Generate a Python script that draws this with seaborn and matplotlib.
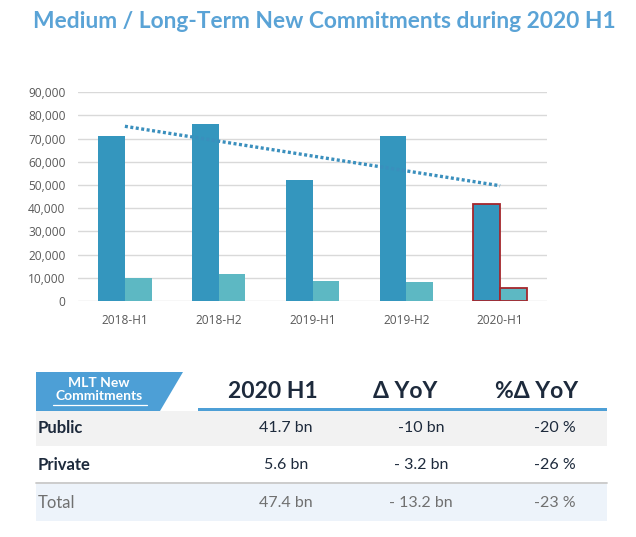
import numpy as np
import pandas as pd
import matplotlib
matplotlib.use("Agg")
import matplotlib.pyplot as plt
import seaborn as sns
from matplotlib.patches import Rectangle, Polygon
from matplotlib.ticker import FuncFormatter

# ---------------- data ----------------
periods = ["2018-H1", "2018-H2", "2019-H1", "2019-H2", "2020-H1"]
public_values = [71200, 76300, 52200, 71200, 41700]
private_values = [10100, 11500, 8600, 8300, 5600]
series_names = ["Public", "Private"]
highlight_period = "2020-H1"

title_text = "Medium / Long-Term New Commitments during 2020 H1"
yticks = [0, 10000, 20000, 30000, 40000, 50000, 60000, 70000, 80000, 90000]

table_banner = ["MLT New", "Commitments"]
table_headers = ["2020 H1", "\u0394 YoY", "%\u0394 YoY"]
table_rows = ["Public", "Private", "Total"]
table_h1 = ["41.7 bn", "5.6 bn", "47.4 bn"]
table_dyoy = ["-10 bn", "- 3.2 bn", "- 13.2 bn"]
table_pyoy = ["-20 %", "-26 %", "-23 %"]

# ---------------- style ----------------
sns.set_theme(style="white")
plt.rcParams["font.family"] = ["Lato", "DejaVu Sans"]

C_PUBLIC = "#3496be"
C_PRIVATE = "#5db8c3"
C_TREND = "#3a8fbd"
C_EDGE = "#a5262c"
C_TITLE = "#5aa3d6"
C_GRID = "#d9d9d9"
C_TICK = "#595959"
C_DARK = "#1d2a3c"

W, H = 636, 537
fig = plt.figure(figsize=(W / 100, H / 100), dpi=100)

# ---------------- bar chart ----------------
ax = fig.add_axes([78 / W, 1 - 301 / H, (547 - 78) / W, (301 - 92.3) / H])
df = pd.DataFrame({
    "period": periods * 2,
    "series": [series_names[0]] * len(periods) + [series_names[1]] * len(periods),
    "value": public_values + private_values,
})
sns.barplot(data=df, x="period", y="value", hue="series", order=periods,
            hue_order=series_names, palette=[C_PUBLIC, C_PRIVATE],
            width=0.57, gap=0, saturation=1, legend=False, ax=ax, zorder=3,
            linewidth=0)

hi = periods.index(highlight_period)
for p in ax.patches:
    cx = p.get_x() + p.get_width() / 2
    if abs(cx - hi) < 0.4:
        p.set_edgecolor(C_EDGE)
        p.set_linewidth(1.3)

# linear trend of public commitments
xs = np.arange(len(periods))
coef = np.polyfit(xs, public_values, 1)
ax.plot(xs, np.polyval(coef, xs), color=C_TREND, lw=2.4,
        linestyle=(0, (0.9, 0.75)), dash_capstyle="butt", zorder=4)

ax.set_xlim(-0.5, len(periods) - 0.5)
ax.set_ylim(0, 90000)
ax.set_yticks(yticks)
ax.yaxis.set_major_formatter(FuncFormatter(lambda v, _: f"{int(v):,}"))
ax.grid(axis="y", color=C_GRID, lw=1.0, zorder=0)
ax.set_axisbelow(True)
for s in ax.spines.values():
    s.set_visible(False)
ax.tick_params(axis="both", length=0, colors=C_TICK, labelsize=8.6,
               labelfontfamily="Open Sans")
ax.tick_params(axis="y", pad=9)
ax.tick_params(axis="x", pad=9)
ax.set_xlabel("")
ax.set_ylabel("")

# ---------------- title & table (pixel coordinates) ----------------
ov = fig.add_axes([0, 0, 1, 1], zorder=10)
ov.set_xlim(0, W)
ov.set_ylim(H, 0)
ov.axis("off")
ov.patch.set_alpha(0)

ov.text(33, 21, title_text, color=C_TITLE, fontsize=16.4, fontweight="bold",
        va="center", ha="left")

# banner
ov.add_patch(Polygon([[36, 372], [183, 372], [160, 411], [36, 411]],
                     closed=True, color="#4d9fd6", lw=0))
ov.text(99, 383, table_banner[0], color="white", fontsize=10,
        fontweight="bold", ha="center", va="center")
ov.text(99, 396, table_banner[1], color="white", fontsize=10,
        fontweight="bold", ha="center", va="center")
ov.plot([53, 147], [404.5, 404.5], color="white", lw=0.9)

# header line
ov.add_patch(Rectangle((198, 408), 607 - 198, 3, color="#4d9fd6", lw=0))

# row backgrounds
ov.add_patch(Rectangle((36, 411), 571, 35, color="#f2f2f2", lw=0))
ov.add_patch(Rectangle((36, 484), 571, 37, color="#edf3fa", lw=0))
ov.plot([36, 607], [483, 483], color="#c8c8c8", lw=1.3)

col_x = [273, 405, 537]
for x, h in zip(col_x, table_headers):
    ov.text(x, 391, h, color=C_DARK, fontsize=16.5, fontweight="bold",
            ha="center", va="center")

val_x = [286, 421, 555]
row_y = [428, 465, 503]
for i, (lab, a, b, c) in enumerate(zip(table_rows, table_h1, table_dyoy, table_pyoy)):
    last = i == len(table_rows) - 1
    col = "#707070" if last else C_DARK
    ov.text(38, row_y[i], lab, color=col, fontsize=12,
            fontweight="normal" if last else "bold", ha="left", va="center")
    for x, v in zip(val_x, (a, b, c)):
        ov.text(x, row_y[i], v, color=col, fontsize=11.5, ha="center",
                va="center", fontweight="normal")

fig.savefig("out.png", dpi=100, facecolor="white")
